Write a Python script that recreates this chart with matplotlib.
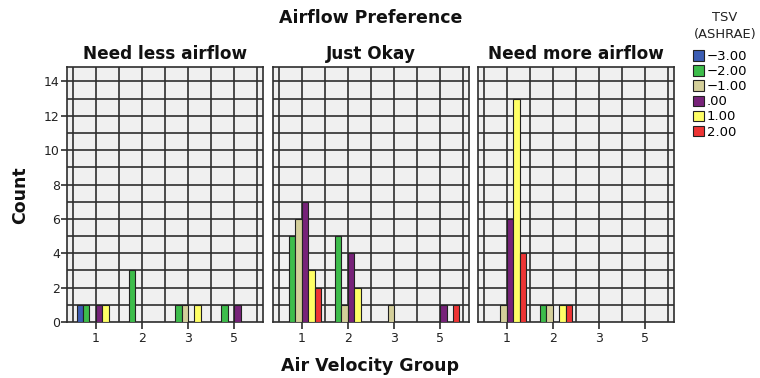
import numpy as np
import matplotlib.pyplot as plt
from matplotlib.patches import Patch

groups = ["1", "2", "3", "5"]
tsv_labels = ["\u22123.00", "\u22122.00", "\u22121.00", ".00", "1.00", "2.00"]
tsv_colors = ["#3c5db3", "#3dbd4b", "#d4cf9a", "#772279", "#ffff66", "#ee3434"]
panel_titles = ["Need less airflow", "Just Okay", "Need more airflow"]

# counts[panel][tsv][group]
need_less = [
    [1, 0, 0, 0],
    [1, 3, 1, 1],
    [0, 0, 1, 0],
    [1, 0, 0, 1],
    [1, 0, 1, 0],
    [0, 0, 0, 0],
]
just_okay = [
    [0, 0, 0, 0],
    [5, 5, 0, 0],
    [6, 1, 1, 0],
    [7, 4, 0, 1],
    [3, 2, 0, 0],
    [2, 0, 0, 1],
]
need_more = [
    [0, 0, 0, 0],
    [0, 1, 0, 0],
    [1, 1, 0, 0],
    [6, 0, 0, 0],
    [13, 1, 0, 0],
    [4, 1, 0, 0],
]
panels = [need_less, just_okay, need_more]

fig = plt.figure(figsize=(7.6, 3.78), dpi=100)
fig.set_facecolor('#FFFFFF')

lefts = [66.7, 272.7, 477.7]
width_px = 196.5
bottom_px, top_px = 322, 67
grid_col = '#2e2e2e'
slot = 0.139
x = np.arange(len(groups))

for p, (left, data) in enumerate(zip(lefts, panels)):
    ax = fig.add_axes([left / 760, 1 - bottom_px / 378, width_px / 760, (bottom_px - top_px) / 378])
    ax.set_facecolor('#f0f0f0')
    ax.set_xlim(-0.63, 3.63)
    ax.set_ylim(0, 14.84)
    for v in np.arange(-0.5, 3.51, 0.5):
        ax.axvline(v, color=grid_col, lw=1.2, zorder=1)
    for h in range(1, 15):
        ax.axhline(h, color=grid_col, lw=1.2, zorder=1)
    for i, counts in enumerate(data):
        offs = (i - 2.5) * slot
        ax.bar(x + offs, counts, width=slot, color=tsv_colors[i],
               edgecolor='#222222', linewidth=0.8, zorder=3)
    ax.set_xticks(x)
    ax.set_xticklabels(groups, fontsize=9, color='#222222')
    ax.tick_params(axis='x', length=5, width=1.2, color=grid_col, pad=2)
    ax.set_yticks(range(0, 15, 2))
    if p == 0:
        ax.tick_params(axis='y', length=4, width=1.2, color=grid_col, labelsize=9,
                       labelcolor='#222222', pad=1)
    else:
        ax.tick_params(axis='y', length=0, labelleft=False)
    for s in ax.spines.values():
        s.set_color(grid_col)
        s.set_linewidth(1.2)
    ax.set_title(panel_titles[p], fontsize=12.2, fontweight='bold', color='#111111', pad=6)

fig.text(371 / 760, 1 - 18 / 378, "Airflow Preference", ha='center', va='center',
         fontsize=12.5, fontweight='bold', color='#111111')
fig.text(20 / 760, 1 - 195 / 378, "Count", ha='center', va='center', rotation=90,
         fontsize=12.5, fontweight='bold', color='#111111')
fig.text(370 / 760, 1 - 366 / 378, "Air Velocity Group", ha='center', va='center',
         fontsize=12.5, fontweight='bold', color='#111111')

# legend title drawn separately to get the spacing of the original
fig.text(725 / 760, 1 - 26 / 378, "TSV\n(ASHRAE)", ha='center', va='center',
         fontsize=9.4, color='#222222', linespacing=1.4)
handles = [Patch(facecolor=c, edgecolor='#222222', linewidth=0.8) for c in tsv_colors]
fig.legend(handles, tsv_labels, loc='upper left',
           bbox_to_anchor=(693 / 760, 1 - 50 / 378), frameon=False, fontsize=9.5,
           handlelength=0.8, handleheight=0.85, borderpad=0,
           handletextpad=0.25, labelspacing=0.16, borderaxespad=0)

fig.savefig('out.png', dpi=100)
